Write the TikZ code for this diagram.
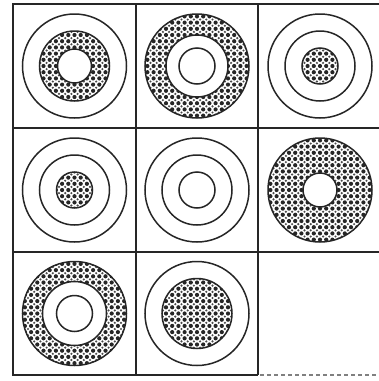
\documentclass[tikz,border=0pt]{standalone}
\tikzset{
  gridline/.style={line width=2.2pt, black!85},
  ring/.style={line width=1.5pt, black!85},
  dashedge/.style={line width=2.5pt, black!50, dash pattern=on 4pt off 3pt},
}
\newcommand\dotdisk[3]{%
  \begin{scope}
    \clip (#1,#2) circle (#3);
    \foreach \i in {-9,...,9}{\foreach \j in {-9,...,9}{%
      \fill[black!85] ({#1+\i*6.2},{#2+\j*6.2}) circle (2.1);
      \fill[black!70] ({#1+\i*6.2+3.1},{#2+\j*6.2+3.1}) circle (1.2);}}
  \end{scope}}
\begin{document}
\begin{tikzpicture}[x=1pt,y=-1pt]
\useasboundingbox (0,0) rectangle (379,381);
\fill[white] (0,0) rectangle (379,381);
% cell 1
\draw[ring] (74.5,66) circle (52);
\dotdisk{74.5}{66}{35}
\fill[white] (74.5,66) circle (17);
\draw[ring] (74.5,66) circle (35) (74.5,66) circle (17);
% cell 2
\dotdisk{197}{66}{52}
\fill[white] (197,66) circle (31);
\draw[ring] (197,66) circle (52) (197,66) circle (31) (197,66) circle (18);
% cell 3
\draw[ring] (320,66) circle (52) (320,66) circle (35);
\dotdisk{320}{66}{18}
\draw[ring] (320,66) circle (18);
% cell 4
\draw[ring] (74.5,190) circle (52) (74.5,190) circle (35);
\dotdisk{74.5}{190}{18}
\draw[ring] (74.5,190) circle (18);
% cell 5
\draw[ring] (197,190) circle (52) (197,190) circle (35) (197,190) circle (18);
% cell 6
\dotdisk{320}{190}{52}
\fill[white] (320,190) circle (17);
\draw[ring] (320,190) circle (52) (320,190) circle (17);
% cell 7
\dotdisk{74.5}{313.5}{52}
\fill[white] (74.5,313.5) circle (32);
\draw[ring] (74.5,313.5) circle (52) (74.5,313.5) circle (32) (74.5,313.5) circle (18);
% cell 8
\draw[ring] (197,313.5) circle (52);
\dotdisk{197}{313.5}{35}
\draw[ring] (197,313.5) circle (35);
% grid
\draw[gridline] (381,4) -- (13,4) -- (13,375) -- (258,375);
\draw[gridline] (136,4) -- (136,375);
\draw[gridline] (258,4) -- (258,375);
\draw[gridline] (13,128) -- (381,128);
\draw[gridline] (13,252) -- (381,252);
\draw[dashedge] (260,375) -- (379,375);
\end{tikzpicture}
\end{document}
